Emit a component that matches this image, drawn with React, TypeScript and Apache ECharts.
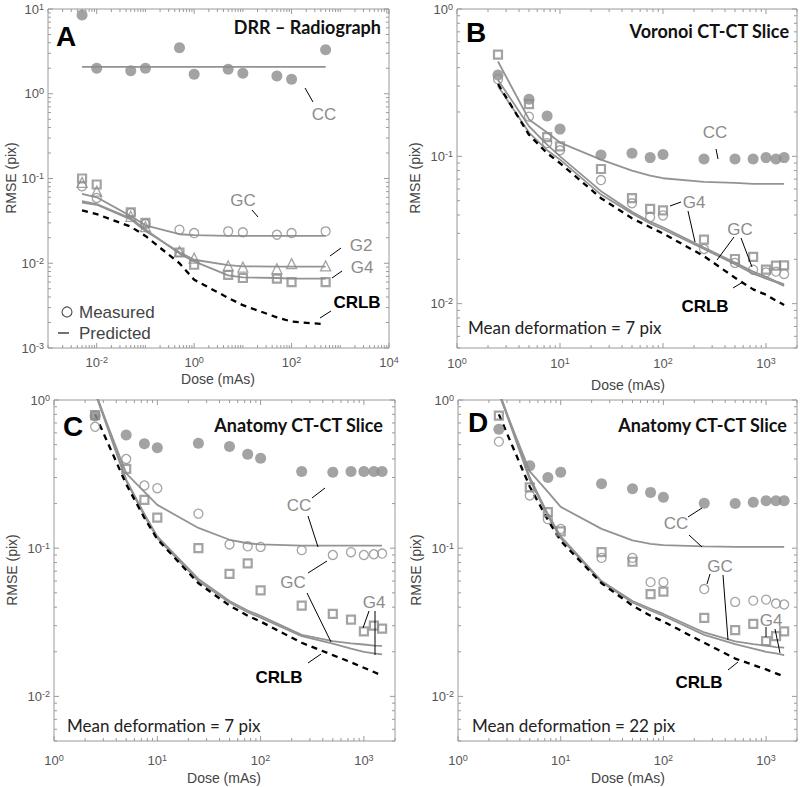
import React, { useEffect, useRef } from 'react';
import * as echarts from 'echarts';

// ---------------- Panel A: DRR – Radiograph ----------------
const doseA = [0.005, 0.01, 0.05, 0.1, 0.5, 1, 5, 10, 50, 100, 500];
const aCCMeas = [8.5, 2.0, 1.87, 2.0, 3.5, 1.7, 1.95, 1.75, 1.62, 1.48, 3.3];
const aCCPred = [2.08, 2.08, 2.08, 2.08, 2.08, 2.08, 2.08, 2.08, 2.08, 2.08, 2.08];
const aGCMeas = [0.081, 0.059, 0.039, 0.029, 0.0249, 0.0227, 0.0238, 0.0232, 0.0217, 0.0227, 0.0238];
const aGCPred = [0.066, 0.06, 0.036, 0.028, 0.022, 0.0215, 0.021, 0.021, 0.021, 0.021, 0.021];
const aG2Meas = [0.09, 0.071, 0.0358, 0.027, 0.0138, 0.0115, 0.0093, 0.009, 0.0086, 0.0099, 0.0093];
const aG2Pred = [0.052, 0.049, 0.033, 0.024, 0.0135, 0.011, 0.0095, 0.0092, 0.0091, 0.0091, 0.0091];
const aG4Meas = [0.1, 0.085, 0.04, 0.03, 0.0134, 0.0096, 0.0073, 0.0067, 0.0066, 0.006, 0.006];
const aG4Pred = [0.054, 0.05, 0.034, 0.025, 0.013, 0.0105, 0.0072, 0.0068, 0.0067, 0.0066, 0.0066];
const aCRLB = [0.042, 0.038, 0.027, 0.021, 0.01, 0.0064, 0.0039, 0.0032, 0.0023, 0.00205, 0.0019];

// ---------------- Panels B, C, D (CT-CT slice) ----------------
const doseCT = [2.5, 5, 7.5, 10, 25, 50, 75, 100, 250, 500, 750, 1000, 1250, 1500];

const bCCMeas = [0.356, 0.244, 0.188, 0.153, 0.102, 0.105, 0.098, 0.103, 0.096, 0.096, 0.096, 0.098, 0.096, 0.098];
const bCCPred = [0.44, 0.178, 0.145, 0.124, 0.095, 0.08, 0.074, 0.071, 0.067, 0.066, 0.065, 0.065, 0.065, 0.065];
const bGCMeas = [0.334, 0.186, 0.123, 0.11, 0.069, 0.048, 0.0387, 0.0397, 0.0235, 0.0189, 0.017, 0.0163, 0.0165, 0.0159];
const bGCPred = [0.3, 0.145, 0.11, 0.095, 0.055, 0.041, 0.035, 0.032, 0.0235, 0.0185, 0.016, 0.0148, 0.014, 0.0132];
const bG4Meas = [0.49, 0.226, 0.135, 0.117, 0.082, 0.052, 0.044, 0.043, 0.0272, 0.0201, 0.0208, 0.017, 0.0181, 0.0182];
const bG4Pred = [0.33, 0.16, 0.12, 0.1, 0.058, 0.042, 0.036, 0.033, 0.024, 0.019, 0.0165, 0.0152, 0.0142, 0.0135];
const bCRLB = [0.31, 0.14, 0.105, 0.09, 0.052, 0.038, 0.033, 0.03, 0.021, 0.015, 0.0125, 0.0115, 0.0105, 0.0098];

const cCCMeas = [0.78, 0.58, 0.506, 0.477, 0.51, 0.485, 0.43, 0.405, 0.329, 0.326, 0.329, 0.329, 0.329, 0.329];
const cCCPred = [1.12, 0.32, 0.24, 0.196, 0.137, 0.114, 0.108, 0.106, 0.104, 0.104, 0.104, 0.104, 0.104, 0.104];
const cGCMeas = [0.66, 0.4, 0.265, 0.254, 0.171, 0.106, 0.103, 0.102, 0.097, 0.09, 0.094, 0.09, 0.091, 0.092];
const cGCPred = [1.15, 0.29, 0.17, 0.12, 0.062, 0.044, 0.038, 0.035, 0.026, 0.0236, 0.0228, 0.0224, 0.022, 0.0219];
const cG4Meas = [0.79, 0.343, 0.212, 0.161, 0.1, 0.067, 0.079, 0.052, 0.041, 0.036, 0.033, 0.0275, 0.03, 0.0287];
const cG4Pred = [1.12, 0.285, 0.165, 0.117, 0.06, 0.043, 0.037, 0.034, 0.0255, 0.0227, 0.021, 0.02, 0.0195, 0.0192];
const cCRLB = [0.8, 0.27, 0.16, 0.115, 0.058, 0.041, 0.035, 0.032, 0.023, 0.019, 0.017, 0.0156, 0.0146, 0.0138];

const dCCMeas = [0.634, 0.36, 0.3, 0.326, 0.272, 0.252, 0.238, 0.221, 0.201, 0.2, 0.204, 0.209, 0.209, 0.209];
const dCCPred = [1.1, 0.33, 0.24, 0.19, 0.135, 0.113, 0.107, 0.105, 0.103, 0.102, 0.102, 0.102, 0.102, 0.102];
const dGCMeas = [0.524, 0.227, 0.157, 0.135, 0.086, 0.086, 0.059, 0.059, 0.053, 0.0434, 0.0443, 0.045, 0.0423, 0.0417];
const dGCPred = [1.15, 0.3, 0.17, 0.12, 0.06, 0.044, 0.039, 0.036, 0.027, 0.0235, 0.0225, 0.022, 0.0215, 0.0213];
const dG4Meas = [0.785, 0.257, 0.175, 0.13, 0.094, 0.081, 0.049, 0.051, 0.0339, 0.028, 0.0309, 0.0236, 0.0255, 0.0275];
const dG4Pred = [1.12, 0.29, 0.165, 0.117, 0.059, 0.043, 0.038, 0.035, 0.026, 0.0225, 0.021, 0.02, 0.0195, 0.019];
const dCRLB = [0.8, 0.26, 0.155, 0.112, 0.058, 0.041, 0.035, 0.032, 0.023, 0.018, 0.0163, 0.0152, 0.0143, 0.0136];

// ---------------- styling ----------------
const GRAY = '#8c8c8c';
const LINEGRAY = '#939393';
const FRAME = '#9a9a9a';
const ARIAL = '"Liberation Sans", Arial, sans-serif';
const CAL = 'Lato, "Open Sans", sans-serif';

type Marker = 'filled' | 'circle' | 'square' | 'triangle';
type Panel = {
  dose: number[];
  xMin: number; xMax: number; yMin: number; yMax: number;
  evenX: boolean;
  meas: { vals: number[]; marker: Marker }[];
  pred: number[][];
  crlb: number[];
  grid: { left: number; top: number; width: number; height: number };
  labelMarginX: number;
};

const panels: Panel[] = [
  {
    dose: doseA, xMin: 0.001, xMax: 10000, yMin: 0.001, yMax: 10, evenX: true,
    meas: [
      { vals: aCCMeas, marker: 'filled' },
      { vals: aGCMeas, marker: 'circle' },
      { vals: aG2Meas, marker: 'triangle' },
      { vals: aG4Meas, marker: 'square' },
    ],
    pred: [aCCPred, aGCPred, aG2Pred, aG4Pred],
    crlb: aCRLB,
    grid: { left: 48, top: 9, width: 341, height: 339 },
    labelMarginX: 7,
  },
  {
    dose: doseCT, xMin: 1, xMax: 2000, yMin: 0.005, yMax: 1, evenX: false,
    meas: [
      { vals: bCCMeas, marker: 'filled' },
      { vals: bGCMeas, marker: 'circle' },
      { vals: bG4Meas, marker: 'square' },
    ],
    pred: [bCCPred, bGCPred, bG4Pred],
    crlb: bCRLB,
    grid: { left: 457, top: 9, width: 341, height: 339 },
    labelMarginX: 8,
  },
  {
    dose: doseCT, xMin: 1, xMax: 2000, yMin: 0.005, yMax: 1, evenX: false,
    meas: [
      { vals: cCCMeas, marker: 'filled' },
      { vals: cGCMeas, marker: 'circle' },
      { vals: cG4Meas, marker: 'square' },
    ],
    pred: [cCCPred, cGCPred, cG4Pred],
    crlb: cCRLB,
    grid: { left: 54, top: 400, width: 341, height: 341 },
    labelMarginX: 12,
  },
  {
    dose: doseCT, xMin: 1, xMax: 2000, yMin: 0.005, yMax: 1, evenX: false,
    meas: [
      { vals: dCCMeas, marker: 'filled' },
      { vals: dGCMeas, marker: 'circle' },
      { vals: dG4Meas, marker: 'square' },
    ],
    pred: [dCCPred, dGCPred, dG4Pred],
    crlb: dCRLB,
    grid: { left: 458, top: 400, width: 340, height: 341 },
    labelMarginX: 12,
  },
];

const pts = (xs: number[], ys: number[]) => xs.map((x, i) => [x, ys[i]]);

const markerStyle = (m: Marker) => {
  switch (m) {
    case 'filled':
      return { symbol: 'circle', symbolSize: 11, itemStyle: { color: GRAY } };
    case 'circle':
      return { symbol: 'circle', symbolSize: 9, itemStyle: { color: 'rgba(255,255,255,0)', borderColor: GRAY, borderWidth: 1.3 } };
    case 'triangle':
      return { symbol: 'triangle', symbolSize: 10, itemStyle: { color: 'rgba(255,255,255,0)', borderColor: GRAY, borderWidth: 1.3 } };
    default:
      return { symbol: 'rect', symbolSize: 8, itemStyle: { color: 'rgba(255,255,255,0)', borderColor: GRAY, borderWidth: 2.2 } };
  }
};

// tick positions (axis decoration: decades and their 2..9 multiples)
function tickItems(p: Panel) {
  const out: number[][] = [];
  const decades = (lo: number, hi: number) => {
    const r: number[] = [];
    for (let e = Math.floor(Math.log10(lo)); e <= Math.ceil(Math.log10(hi)); e++) r.push(e);
    return r;
  };
  for (const e of decades(p.xMin, p.xMax)) {
    for (let m = 1; m <= 9; m++) {
      const v = m * Math.pow(10, e);
      if (v < p.xMin * 0.999 || v > p.xMax * 1.001) continue;
      const major = m === 1 && (!p.evenX || e % 2 === 0);
      out.push([v, p.yMin, major ? 0 : 1]);
    }
  }
  for (const e of decades(p.yMin, p.yMax)) {
    for (let m = 1; m <= 9; m++) {
      const v = m * Math.pow(10, e);
      if (v < p.yMin * 0.999 || v > p.yMax * 1.001) continue;
      out.push([p.xMin, v, m === 1 ? 2 : 3]);
    }
  }
  return out;
}

const powLabel = (evenOnly: boolean) => (v: number) => {
  const e = Math.log10(v);
  const r = Math.round(e);
  if (Math.abs(e - r) > 1e-6) return '';
  if (evenOnly && r % 2 !== 0) return '';
  return `{b|10}{s|${r}}`;
};

const richLabel = {
  b: { fontSize: 13, fontFamily: ARIAL, color: '#555', lineHeight: 14, verticalAlign: 'middle' },
  s: { fontSize: 9, fontFamily: ARIAL, color: '#555', lineHeight: 9, verticalAlign: 'top' },
};

function buildOption() {
  const grid: any[] = [];
  const xAxis: any[] = [];
  const yAxis: any[] = [];
  const series: any[] = [];

  panels.forEach((p, i) => {
    grid.push({ ...p.grid, show: true, borderColor: FRAME, borderWidth: 1, backgroundColor: '#fff', containLabel: false });
    xAxis.push({
      type: 'log', logBase: 10, gridIndex: i, min: p.xMin, max: p.xMax,
      axisLine: { show: false }, axisTick: { show: false }, splitLine: { show: false },
      axisLabel: { formatter: powLabel(p.evenX), rich: richLabel, margin: p.labelMarginX, interval: 0, showMinLabel: true, showMaxLabel: true, hideOverlap: false },
    });
    yAxis.push({
      type: 'log', logBase: 10, gridIndex: i, min: p.yMin, max: p.yMax,
      axisLine: { show: false }, axisTick: { show: false }, splitLine: { show: false },
      axisLabel: { formatter: powLabel(false), rich: richLabel, margin: 4, interval: 0, showMinLabel: true, showMaxLabel: true, hideOverlap: false },
    });

    // ticks on all four sides
    series.push({
      type: 'custom', xAxisIndex: i, yAxisIndex: i, silent: true, z: 1,
      encode: { x: 0, y: 1 },
      data: tickItems(p),
      renderItem: (_params: any, api: any) => {
        const kind = api.value(2);
        const st = { stroke: FRAME, lineWidth: 1 };
        if (kind < 2) {
          const x = api.value(0);
          const b = api.coord([x, p.yMin]);
          const t = api.coord([x, p.yMax]);
          const len = kind === 0 ? 5 : 3;
          return {
            type: 'group', children: [
              { type: 'line', shape: { x1: b[0], y1: b[1], x2: b[0], y2: b[1] - len }, style: st },
              { type: 'line', shape: { x1: t[0], y1: t[1], x2: t[0], y2: t[1] + len }, style: st },
            ],
          };
        }
        const y = api.value(1);
        const l = api.coord([p.xMin, y]);
        const r = api.coord([p.xMax, y]);
        const len = kind === 2 ? 5 : 3;
        return {
          type: 'group', children: [
            { type: 'line', shape: { x1: l[0], y1: l[1], x2: l[0] + len, y2: l[1] }, style: st },
            { type: 'line', shape: { x1: r[0], y1: r[1], x2: r[0] - len, y2: r[1] }, style: st },
          ],
        };
      },
    });

    p.pred.forEach((vals) => {
      series.push({
        type: 'line', xAxisIndex: i, yAxisIndex: i, data: pts(p.dose, vals), symbol: 'none', silent: true, z: 2,
        lineStyle: { color: LINEGRAY, width: 1.8 }, clip: true,
      });
    });
    series.push({
      type: 'line', xAxisIndex: i, yAxisIndex: i, data: pts(p.dose, p.crlb), symbol: 'none', silent: true, z: 2,
      lineStyle: { color: '#000', width: 2.3, type: [6, 5] }, clip: true,
    });
    p.meas.forEach((m) => {
      series.push({
        type: 'scatter', xAxisIndex: i, yAxisIndex: i, data: pts(p.dose, m.vals), silent: true, z: 3,
        ...markerStyle(m.marker),
      });
    });
  });

  const T = (text: string, x: number, y: number, o: any = {}) => ({
    type: 'text', x, y, silent: true, z: 100, rotation: o.rotation || 0,
    style: {
      text, fill: o.fill || GRAY, fontSize: o.size || 17, fontWeight: o.weight || 'normal',
      fontFamily: o.family || ARIAL, align: o.align || 'center', verticalAlign: 'middle',
      textAlign: o.align || 'center', textVerticalAlign: 'middle',
    },
  });
  const L = (x1: number, y1: number, x2: number, y2: number, stroke = '#000', w = 1) => ({
    type: 'line', silent: true, z: 100, shape: { x1, y1, x2, y2 }, style: { stroke, lineWidth: w },
  });
  const panelLetter = (t: string, x: number, y: number) => T(t, x, y, { fill: '#000', size: 28, weight: 'bold', align: 'left' });
  const title = (t: string, x: number, y: number) => T(t, x, y, { fill: '#111', size: 18, weight: 'bold', family: CAL, align: 'right' });
  const crlb = (x: number, y: number) => T('CRLB', x, y, { fill: '#000', weight: 'bold' });
  const note = (t: string, x: number, y: number) => T(t, x, y, { fill: '#222', size: 17, family: CAL, align: 'left' });
  const xName = (x: number, y: number) => T('Dose (mAs)', x, y, { fill: '#444', size: 14 });
  const yName = (x: number, y: number) => T('RMSE (pix)', x, y, { fill: '#444', size: 14, rotation: Math.PI / 2 });

  const graphic: any[] = [
    // Panel A
    panelLetter('A', 56, 36), title('DRR – Radiograph', 381, 27),
    T('CC', 324, 114), L(305, 88, 313, 102),
    T('GC', 243, 200), L(252, 210, 258, 217),
    T('G2', 361, 245), L(330, 256, 341, 248),
    T('G4', 362, 267), L(332, 278, 342, 271),
    crlb(357, 302), L(320, 318, 331, 311),
    { type: 'circle', silent: true, z: 100, shape: { cx: 67, cy: 312, r: 5 }, style: { fill: 'none', stroke: '#555', lineWidth: 1.2 } },
    T('Measured', 79, 312, { fill: '#444', align: 'left' }),
    L(58, 333, 69, 333, '#444', 1.5),
    T('Predicted', 79, 333, { fill: '#444', align: 'left' }),
    xName(218, 379), yName(11, 178),
    // Panel B
    panelLetter('B', 466, 32), title('Voronoi CT-CT Slice', 789, 31),
    T('CC', 715, 132), L(716, 149, 718, 159),
    T('G4', 694, 202), L(670, 206, 681, 202), L(688, 211, 695, 242),
    T('GC', 740, 229), L(734, 237, 717, 260), L(741, 238, 752, 267),
    crlb(705, 306), L(733, 288, 743, 282),
    note('Mean deformation = 7 pix', 468, 327),
    xName(628, 385), yName(415, 178),
    // Panel C
    panelLetter('C', 63, 426), title('Anatomy CT-CT Slice', 383, 425),
    T('CC', 299, 505), L(312, 498, 325, 488), L(308, 516, 318, 547),
    T('GC', 293, 582), L(308, 573, 327, 561), L(307, 593, 331, 642),
    T('G4', 374, 602), L(369, 611, 363, 628), L(375, 611, 375, 655),
    crlb(279, 677), L(308, 663, 321, 654),
    note('Mean deformation = 7 pix', 67, 725),
    xName(224, 778), yName(12, 570),
    // Panel D
    panelLetter('D', 468, 422), title('Anatomy CT-CT Slice', 787, 425),
    T('CC', 676, 523), L(688, 517, 702, 508), L(689, 535, 702, 547),
    T('GC', 720, 566), L(710, 574, 707, 584), L(723, 575, 728, 640),
    T('G4', 771, 620), L(766, 627, 766, 637), L(775, 629, 780, 653),
    crlb(699, 682), L(728, 670, 738, 662),
    note('Mean deformation = 22 pix', 472, 725),
    xName(628, 778), yName(416, 570),
  ];

  return { animation: false, backgroundColor: '#fff', grid, xAxis, yAxis, series, graphic };
}

export default function App() {
  const ref = useRef<HTMLDivElement>(null);
  useEffect(() => {
    if (!ref.current) return;
    const chart = echarts.init(ref.current, undefined, { renderer: 'svg' });
    chart.setOption(buildOption() as any);
    return () => chart.dispose();
  }, []);
  return <div ref={ref} style={{ position: 'fixed', left: 0, top: 0, width: 800, height: 787, background: '#fff' }} />;
}
